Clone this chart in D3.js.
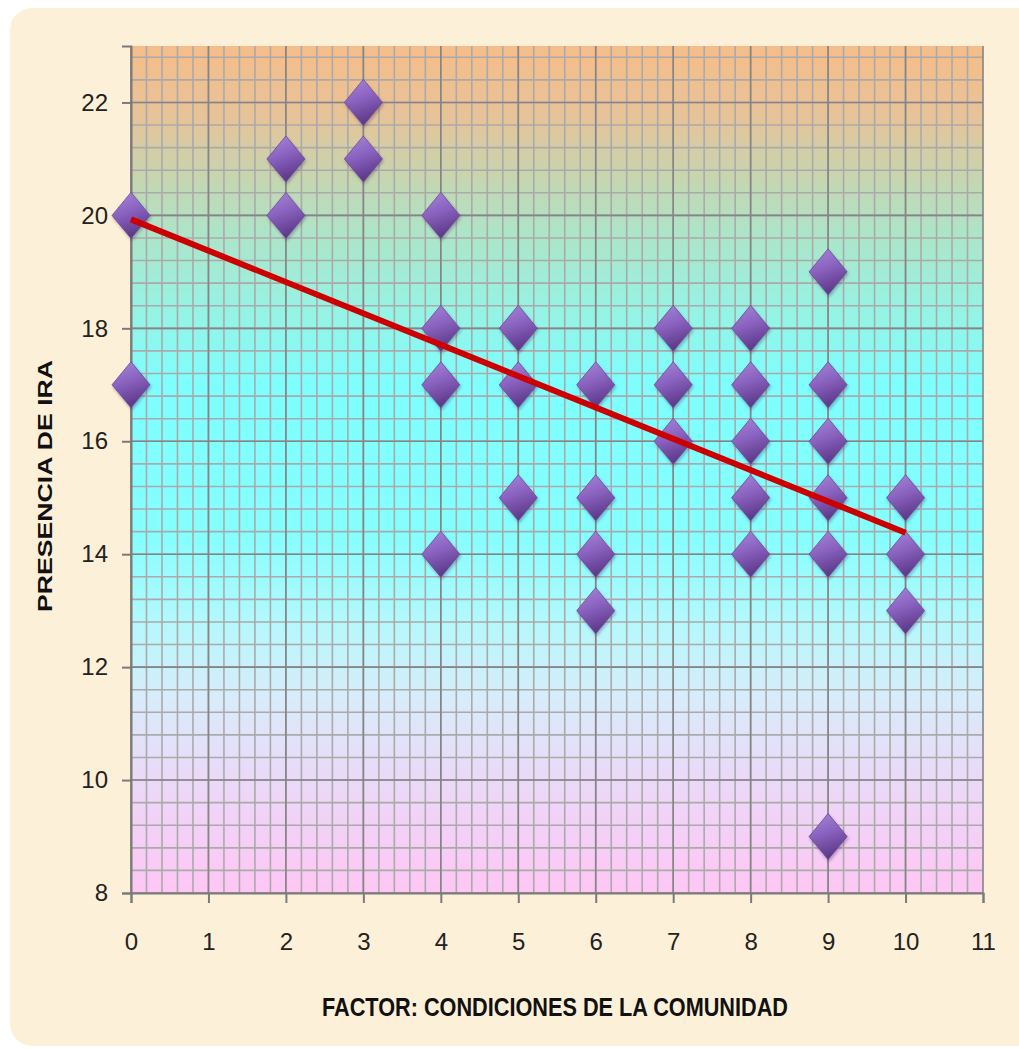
<!DOCTYPE html>
<html>
<head>
<meta charset="utf-8">
<script src="https://cdn.jsdelivr.net/npm/d3@7"></script>
<style>
  html, body { margin: 0; padding: 0; background: #ffffff; }
  svg { display: block; }
</style>
</head>
<body>
<div id="chart"></div>
<script>
// Data
var factor = [0, 0, 2, 2, 3, 3, 4, 4, 4, 4, 5, 5, 5, 6, 6, 6, 6, 7, 7, 7, 8, 8, 8, 8, 8, 9, 9, 9, 9, 9, 9, 10, 10, 10];
var ira    = [20, 17, 21, 20, 22, 21, 20, 18, 17, 14, 18, 17, 15, 17, 15, 14, 13, 18, 17, 16, 18, 17, 16, 15, 14, 19, 17, 16, 15, 14, 9, 15, 14, 13];
var xTicks = [0, 1, 2, 3, 4, 5, 6, 7, 8, 9, 10, 11];
var yTicks = [8, 10, 12, 14, 16, 18, 20, 22];
// trend line end points (x, y)
var trendX = [0, 10];
var trendY = [19.93, 14.38];

var xTitle = "FACTOR: CONDICIONES DE LA COMUNIDAD";
var yTitle = "PRESENCIA  DE IRA";

var svgWidth = 1019;
var svgHeight = 1049;

var margin = { top: 46, right: 36, bottom: 156, left: 131 };
var width = svgWidth - margin.left - margin.right;
var height = svgHeight - margin.top - margin.bottom;

var svg = d3.select("#chart")
  .append("svg")
  .attr("width", svgWidth)
  .attr("height", svgHeight);

var defs = svg.append("defs");

// plot background gradient
var bg = defs.append("linearGradient")
  .attr("id", "plotBg")
  .attr("x1", 0).attr("y1", 0).attr("x2", 0).attr("y2", 1);
[
  ["0%", "#f6bd88"],
  ["8%", "#e8c298"],
  ["15%", "#c8d4ae"],
  ["22%", "#aee4c8"],
  ["32%", "#94f4e6"],
  ["40%", "#7efefe"],
  ["58%", "#86fefe"],
  ["68%", "#b4f8fc"],
  ["77%", "#d8ecfa"],
  ["86%", "#eadaf8"],
  ["100%", "#fec6f4"]
].forEach(function(s) {
  bg.append("stop").attr("offset", s[0]).attr("stop-color", s[1]);
});

// diamond fill
var dg = defs.append("linearGradient")
  .attr("id", "diamondFill")
  .attr("x1", 0).attr("y1", 0).attr("x2", 0.3).attr("y2", 1);
dg.append("stop").attr("offset", "0%").attr("stop-color", "#a788d8");
dg.append("stop").attr("offset", "50%").attr("stop-color", "#8a62c0");
dg.append("stop").attr("offset", "100%").attr("stop-color", "#5e3a8a");

var shadow = defs.append("filter").attr("id", "shadow")
  .attr("x", "-30%").attr("y", "-30%").attr("width", "160%").attr("height", "160%");
shadow.append("feDropShadow")
  .attr("dx", 1).attr("dy", 2).attr("stdDeviation", 1.5)
  .attr("flood-color", "#3a2050").attr("flood-opacity", 0.35);

// cream panel
svg.append("rect")
  .attr("x", 10).attr("y", 8)
  .attr("width", 1030).attr("height", 1038)
  .attr("rx", 22).attr("ry", 22)
  .attr("fill", "#fdf0d9");

var chartGroup = svg.append("g")
  .attr("transform", `translate(${margin.left}, ${margin.top})`);

// Scales
var xScale = d3.scaleLinear().domain([0, 11]).range([0, width]);
var yScale = d3.scaleLinear().domain([8, 23]).range([height, 0]);

chartGroup.append("rect")
  .attr("width", width).attr("height", height)
  .attr("fill", "url(#plotBg)");

// minor grid
chartGroup.append("g").selectAll("line")
  .data(d3.range(0, 55).map(function(i) { return i * 0.2; }))
  .enter().append("line")
  .attr("x1", d => xScale(d)).attr("x2", d => xScale(d))
  .attr("y1", 0).attr("y2", height)
  .attr("stroke", "#aaaaaa").attr("stroke-width", 1.6);

chartGroup.append("g").selectAll("line")
  .data(d3.range(1, 38).map(function(i) { return 8 + i * 0.4; }))
  .enter().append("line")
  .attr("x1", 0).attr("x2", width)
  .attr("y1", d => yScale(d)).attr("y2", d => yScale(d))
  .attr("stroke", "#aaaaaa").attr("stroke-width", 1.6);

// major grid
chartGroup.append("g").selectAll("line")
  .data(xTicks)
  .enter().append("line")
  .attr("x1", d => xScale(d)).attr("x2", d => xScale(d))
  .attr("y1", 0).attr("y2", height)
  .attr("stroke", "#858585").attr("stroke-width", 1.6);

chartGroup.append("g").selectAll("line")
  .data(yTicks)
  .enter().append("line")
  .attr("x1", 0).attr("x2", width)
  .attr("y1", d => yScale(d)).attr("y2", d => yScale(d))
  .attr("stroke", "#858585").attr("stroke-width", 1.6);

// Axes
var xAxis = d3.axisBottom(xScale).tickValues(xTicks).tickSize(10).tickPadding(30);
var yAxis = d3.axisLeft(yScale).tickValues(yTicks).tickSize(9).tickPadding(14);

var gx = chartGroup.append("g")
  .attr("transform", `translate(0, ${height})`)
  .call(xAxis);
var gy = chartGroup.append("g").call(yAxis);

[gx, gy].forEach(function(g) {
  g.select(".domain").attr("stroke", "#7a7a7a").attr("stroke-width", 2);
  g.selectAll(".tick line").attr("stroke", "#7a7a7a").attr("stroke-width", 2);
  g.selectAll(".tick text")
    .attr("fill", "#222")
    .style("font-family", "'Liberation Sans', Arial, sans-serif")
    .style("font-size", "24px");
});

// Points
chartGroup.append("g").selectAll("path")
  .data(factor.map(function(f, i) { return { x: f, y: ira[i] }; }))
  .enter().append("path")
  .attr("d", "M0,-23 L19,0 L0,23 L-19,0 Z")
  .attr("transform", d => `translate(${xScale(d.x)}, ${yScale(d.y)})`)
  .attr("fill", "url(#diamondFill)")
  .attr("stroke", "#6a4896").attr("stroke-width", 0.8)
  .attr("filter", "url(#shadow)");

// Trend line
var line = d3.line()
  .x(d => xScale(d[0]))
  .y(d => yScale(d[1]));

chartGroup.append("path")
  .datum(trendX.map(function(x, i) { return [x, trendY[i]]; }))
  .attr("d", line)
  .attr("fill", "none")
  .attr("stroke", "#cc0000")
  .attr("stroke-width", 6);

// Titles
svg.append("text")
  .attr("x", 555).attr("y", 1016)
  .attr("text-anchor", "middle")
  .attr("textLength", 466)
  .attr("lengthAdjust", "spacingAndGlyphs")
  .style("font-family", "'Liberation Sans', Arial, sans-serif")
  .style("font-weight", "bold")
  .style("font-size", "26px")
  .attr("fill", "#111")
  .text(xTitle);

svg.append("text")
  .attr("transform", "translate(52, 486) rotate(-90)")
  .attr("text-anchor", "middle")
  .attr("textLength", 252)
  .attr("lengthAdjust", "spacingAndGlyphs")
  .style("font-family", "'Liberation Sans', Arial, sans-serif")
  .style("font-weight", "bold")
  .style("font-size", "20px")
  .attr("fill", "#111")
  .text(yTitle);
</script>
</body>
</html>
